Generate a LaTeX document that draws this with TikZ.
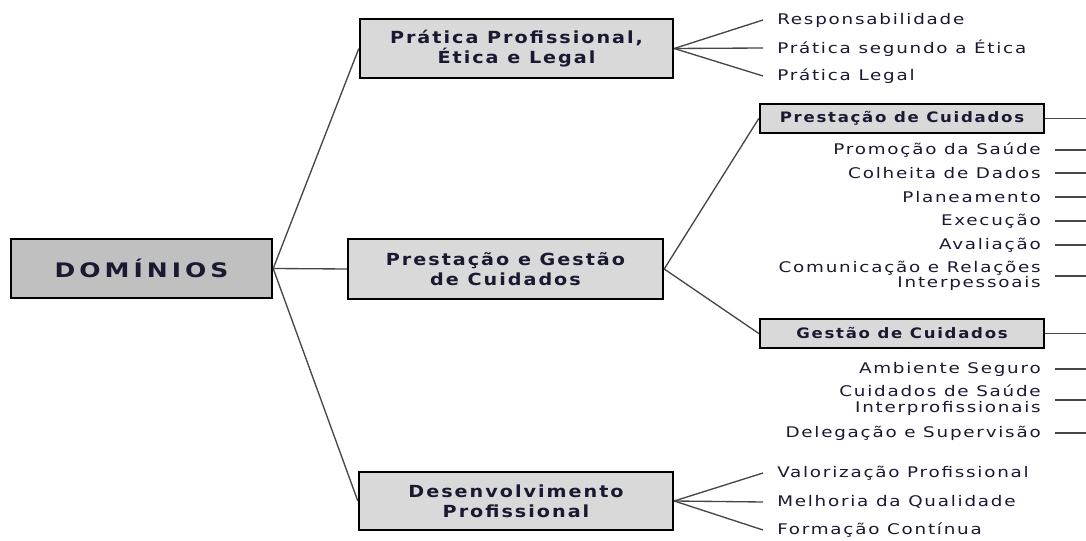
\documentclass[tikz,border=0pt]{standalone}
\usepackage{fontspec}
\setmainfont{DejaVu Sans}
\newfontfamily\leaffont[FakeStretch=1.25, LetterSpace=12]{DejaVu Sans}
\newfontfamily\boxfont[FakeStretch=1.15, LetterSpace=12]{DejaVu Sans}
\newfontfamily\titlefont[FakeStretch=1.25, LetterSpace=20]{DejaVu Sans}
\usetikzlibrary{positioning}
\definecolor{ink}{RGB}{25,25,50}
\definecolor{linegray}{RGB}{70,70,70}
\definecolor{boxgray}{RGB}{217,217,217}
\definecolor{domgray}{RGB}{192,192,192}

\begin{document}
\begin{tikzpicture}[x=0.75pt, y=-0.75pt,
    caixa/.style={draw, line width=1.8pt, fill=boxgray, text=ink,
        align=center, font=\boxfont\bfseries\fontsize{12.5pt}{15pt}\selectfont},
    subcaixa/.style={caixa, minimum width=213pt, minimum height=21.75pt,
        font=\boxfont\bfseries\fontsize{10.8pt}{12pt}\selectfont},
    folha/.style={text=ink, inner xsep=10.5pt, inner ysep=1pt,
        font=\leaffont\fontsize{11pt}{11.5pt}\selectfont},
    ramo/.style={draw=linegray, line width=1pt}]
    \useasboundingbox (0,0) rectangle (1086,541);

    \node [caixa,
        fill=domgray,
        minimum width=195.75pt,
        minimum height=44.25pt,
        font=\titlefont\bfseries\fontsize{15pt}{17pt}\selectfont
    ] (dominios) at (141.5,268.5) {DOMÍNIOS};

    \node [caixa,
        minimum width=234.75pt,
        minimum height=44.25pt
    ] (pratica) at (516.5,48.5) {Prática Profissional,\\Ética e Legal};

    \node [caixa,
        minimum width=236.25pt,
        minimum height=45pt
    ] (prestgest) at (505.5,269) {Prestação e Gestão\\de Cuidados};

    \node [caixa,
        minimum width=235.5pt,
        minimum height=43.5pt
    ] (desenv) at (516,501) {Desenvolvimento\\Profissional};

    \node [subcaixa] (prestcuid) at (902,118.5) {Prestação de Cuidados};
    \node [subcaixa] (gestcuid) at (902,333.5) {Gestão de Cuidados};

    % folhas da esquerda %
    \node [folha, anchor=west] (resp) at (763,20) {Responsabilidade};
    \node [folha, anchor=west] (etica) at (763,48) {Prática segundo a Ética};
    \node [folha, anchor=west] (legal) at (763,76) {Prática Legal};

    \node [folha, anchor=west] (valor) at (763,473) {Valorização Profissional};
    \node [folha, anchor=west] (qualid) at (763,502) {Melhoria da Qualidade};
    \node [folha, anchor=west] (formac) at (763,530) {Formação Contínua};

    % folhas da direita %
    \node [folha, anchor=east] (promo) at (1055,150) {Promoção da Saúde};
    \node [folha, anchor=east] (colh) at (1055,173) {Colheita de Dados};
    \node [folha, anchor=east] (plan) at (1055,197) {Planeamento};
    \node [folha, anchor=east] (exec) at (1055,221) {Execução};
    \node [folha, anchor=east] (aval) at (1055,245) {Avaliação};
    \node [folha, anchor=east, align=right] (comun) at (1055,276)
        {Comunicação e Relações\\Interpessoais};

    \node [folha, anchor=east] (ambi) at (1055,369) {Ambiente Seguro};
    \node [folha, anchor=east, align=right] (interp) at (1055,400)
        {Cuidados de Saúde\\Interprofissionais};
    \node [folha, anchor=east] (deleg) at (1055,433) {Delegação e Supervisão};

    % pontas soltas na margem %
    \coordinate (prestcuidF) at (1086,118.5);
    \coordinate (gestcuidF) at (1086,333.5);
    \coordinate (promoF) at (1086,150);
    \coordinate (colhF) at (1086,173);
    \coordinate (planF) at (1086,197);
    \coordinate (execF) at (1086,221);
    \coordinate (avalF) at (1086,245);
    \coordinate (comunF) at (1086,276);
    \coordinate (ambiF) at (1086,369);
    \coordinate (interpF) at (1086,400);
    \coordinate (delegF) at (1086,433);

    % ligações %
    \draw [ramo] (dominios.east) -- (pratica.west);
    \draw [ramo] (dominios.east) -- (prestgest.west);
    \draw [ramo] (dominios.east) -- (desenv.west);

    \draw [ramo] (pratica.east) -- (resp.west);
    \draw [ramo] (pratica.east) -- (etica.west);
    \draw [ramo] (pratica.east) -- (legal.west);

    \draw [ramo] (prestgest.east) -- (prestcuid.west);
    \draw [ramo] (prestgest.east) -- (gestcuid.west);

    \draw [ramo] (desenv.east) -- (valor.west);
    \draw [ramo] (desenv.east) -- (qualid.west);
    \draw [ramo] (desenv.east) -- (formac.west);

    \draw [ramo] (prestcuid.east) -- (prestcuidF);
    \draw [ramo] (gestcuid.east) -- (gestcuidF);
    \draw [ramo] (promo.east) -- (promoF);
    \draw [ramo] (colh.east) -- (colhF);
    \draw [ramo] (plan.east) -- (planF);
    \draw [ramo] (exec.east) -- (execF);
    \draw [ramo] (aval.east) -- (avalF);
    \draw [ramo] (comun.east) -- (comunF);
    \draw [ramo] (ambi.east) -- (ambiF);
    \draw [ramo] (interp.east) -- (interpF);
    \draw [ramo] (deleg.east) -- (delegF);
\end{tikzpicture}
\end{document}
